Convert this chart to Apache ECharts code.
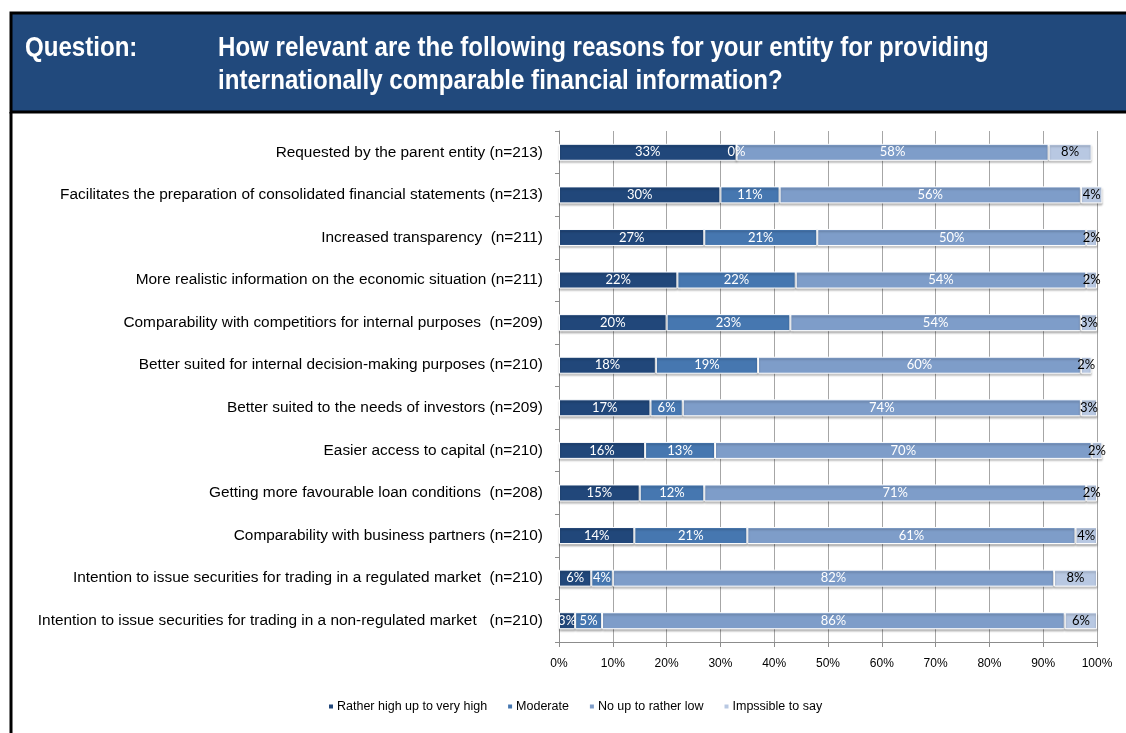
<!DOCTYPE html>
<html>
<head>
<meta charset="utf-8">
<script src="https://cdn.jsdelivr.net/npm/echarts@6/dist/echarts.min.js"></script>
<style>
  html, body { margin: 0; padding: 0; background: #ffffff; }
  #chart { width: 1126px; height: 733px; }
</style>
</head>
<body>
<div id="chart"></div>
<script>
// Reasons for providing internationally comparable financial information
const categories = [
  'Requested by the parent entity (n=213)',
  'Facilitates the preparation of consolidated financial statements (n=213)',
  'Increased transparency  (n=211)',
  'More realistic information on the economic situation (n=211)',
  'Comparability with competitiors for internal purposes  (n=209)',
  'Better suited for internal decision-making purposes (n=210)',
  'Better suited to the needs of investors (n=209)',
  'Easier access to capital (n=210)',
  'Getting more favourable loan conditions  (n=208)',
  'Comparability with business partners (n=210)',
  'Intention to issue securities for trading in a regulated market  (n=210)',
  'Intention to issue securities for trading in a non-regulated market   (n=210)'
];

const seriesNames = [
  'Rather high up to very high',
  'Moderate',
  'No up to rather low',
  'Impssible to say'
];

const ratherHigh = [33, 30, 27, 22, 20, 18, 17, 16, 15, 14, 6, 3];
const moderate   = [0, 11, 21, 22, 23, 19, 6, 13, 12, 21, 4, 5];
const lowOrNone  = [58, 56, 50, 54, 54, 60, 74, 70, 71, 61, 82, 86];
const cannotSay  = [8, 4, 2, 2, 3, 2, 3, 2, 2, 4, 8, 6];

const xTicks = [0, 10, 20, 30, 40, 50, 60, 70, 80, 90, 100];

const colors = ['#21477a', '#4677b0', '#7e9dc9', '#b8c8e2'];
const labelColors = ['#ffffff', '#ffffff', '#ffffff', '#000000'];
const values = [ratherHigh, moderate, lowOrNone, cannotSay];

const chart = echarts.init(document.getElementById('chart'), null, { renderer: 'canvas' });

const series = values.map((arr, i) => ({
  name: seriesNames[i],
  type: 'bar',
  stack: 'total',
  barWidth: 17,
  clip: false,
  data: arr,
  itemStyle: {
    color: colors[i],
    borderColor: '#ffffff',
    borderWidth: 1,
    shadowColor: 'rgba(0,0,0,0.25)',
    shadowBlur: 2,
    shadowOffsetY: 2
  },
  label: {
    show: true,
    position: 'inside',
    formatter: '{c}%',
    color: labelColors[i],
    fontFamily: 'Lato, "Open Sans", sans-serif',
    fontSize: 13
  },
  emphasis: { disabled: true }
}));

const headerFont = 'bold 28px "Liberation Sans", Arial, sans-serif';

const option = {
  animation: false,
  backgroundColor: '#ffffff',
  grid: { left: 559, right: 29, top: 131, bottom: 91, containLabel: false },
  xAxis: {
    type: 'value',
    min: 0,
    max: 100,
    interval: 10,
    axisLine: { show: true, lineStyle: { color: '#8c8c8c', width: 1 } },
    axisTick: { show: true, length: 5, lineStyle: { color: '#8c8c8c' } },
    splitLine: { show: true, lineStyle: { color: '#a6a6a6', width: 1 } },
    axisLabel: {
      formatter: v => xTicks.includes(v) ? v + '%' : '',
      color: '#000000',
      fontFamily: '"Liberation Sans", Arial, sans-serif',
      fontSize: 12,
      margin: 16
    }
  },
  yAxis: {
    type: 'category',
    data: categories,
    inverse: true,
    axisLine: { show: true, lineStyle: { color: '#8c8c8c', width: 1 } },
    axisTick: { show: true, length: 4, alignWithLabel: false, lineStyle: { color: '#8c8c8c' } },
    axisLabel: {
      color: '#000000',
      fontFamily: '"Liberation Sans", Arial, sans-serif',
      fontSize: 15.4,
      margin: 16
    }
  },
  legend: {
    data: seriesNames,
    left: 322,
    top: 695,
    itemWidth: 6,
    itemHeight: 6,
    itemGap: 19,
    icon: 'rect',
    textStyle: {
      color: '#000000',
      fontFamily: '"Liberation Sans", Arial, sans-serif',
      fontSize: 12.5,
      padding: [0, 0, 0, -2]
    }
  },
  graphic: [
    // header band
    {
      type: 'rect',
      shape: { x: 11, y: 13, width: 1120, height: 99 },
      style: { fill: '#21497c', stroke: '#000000', lineWidth: 3 },
      z: 0
    },
    // left frame line down the page
    {
      type: 'line',
      shape: { x1: 11, y1: 112, x2: 11, y2: 740 },
      style: { stroke: '#000000', lineWidth: 3 }
    },
    {
      type: 'text',
      x: 25,
      y: 32,
      scaleX: 0.86,
      style: {
        x: 0,
        y: 0,
        text: 'Question:',
        fill: '#ffffff',
        verticalAlign: 'top',
        lineHeight: 33,
        font: headerFont
      }
    },
    {
      type: 'text',
      x: 218,
      y: 32,
      scaleX: 0.86,
      style: {
        x: 0,
        y: 0,
        text: 'How relevant are the following reasons for your entity for providing\ninternationally comparable financial information?',
        fill: '#ffffff',
        verticalAlign: 'top',
        lineHeight: 33,
        font: headerFont
      }
    }
  ],
  series: series
};

chart.setOption(option);
</script>
</body>
</html>
